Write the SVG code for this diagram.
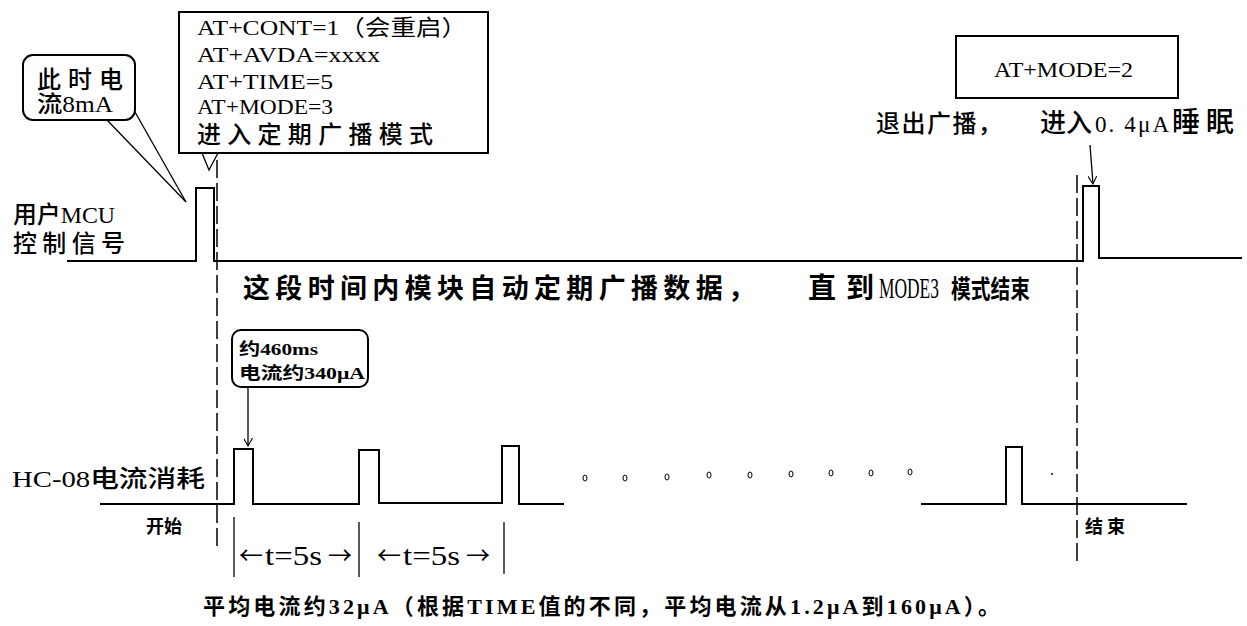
<svg xmlns="http://www.w3.org/2000/svg" width="1247" height="626" viewBox="0 0 1247 626">
<defs>
<style>
.ln{fill:none;stroke:#000;stroke-width:2}
.thin{fill:none;stroke:#000;stroke-width:1.3}
.dash{fill:none;stroke:#000;stroke-width:1.5;stroke-dasharray:18 5}
.box{fill:#fff;stroke:#000;stroke-width:2}
.t{font-family:"Liberation Serif","Noto Sans CJK SC",serif;fill:#000}
.c{font-family:"Liberation Serif","Noto Sans CJK SC",serif;fill:#000;font-weight:bold}
.cj{font-family:"Noto Sans CJK SC",sans-serif;fill:#000}
.dot{fill:none;stroke:#000;stroke-width:1}
</style>
<marker id="ah" viewBox="0 0 10 10" refX="9" refY="5" markerWidth="9" markerHeight="9" orient="auto" markerUnits="userSpaceOnUse">
<path d="M0,0 L9,5 L0,10" fill="none" stroke="#000" stroke-width="1.2"/>
</marker>
</defs>
<rect width="1247" height="626" fill="#fff"/>

<g id="connectors">
<path class="ln" d="M67,261 H196 V188 H214 V261 H1083 V186 H1099 V258 H1242"/>
<path class="ln" d="M100,504 H234 V449 H253 V504 H359 V450 H379 V503 H502 V446 H519 V504 H564"/>
<path class="ln" d="M921,504 H1006 V447 H1022 V504 H1187"/>
<line class="dash" x1="217" y1="160" x2="217" y2="550"/>
<line class="dash" x1="1077" y1="175" x2="1077" y2="562"/>
<line class="thin" x1="107" y1="120" x2="186" y2="202"/>
<line class="thin" x1="135" y1="112" x2="186" y2="202"/>
<polyline class="thin" points="202,153 209,170 218,153"/>
<line class="thin" x1="248" y1="387" x2="248" y2="446" marker-end="url(#ah)"/>
<line class="thin" x1="1090" y1="145" x2="1093" y2="184" marker-end="url(#ah)"/>
<line class="thin" x1="234" y1="517" x2="234" y2="577"/>
<line class="thin" x1="359" y1="522" x2="359" y2="577"/>
<line class="thin" x1="504" y1="522" x2="504" y2="574"/>
</g>

<g id="cmd-box">
<rect class="box" x="179" y="12" width="309" height="141"/>
<text class="t" font-size="22" x="197" y="35" textLength="270" lengthAdjust="spacingAndGlyphs">AT+CONT=1（会重启）</text>
<text class="t" font-size="22" x="197" y="62" textLength="183" lengthAdjust="spacingAndGlyphs">AT+AVDA=xxxx</text>
<text class="t" font-size="22" x="197" y="89" textLength="136" lengthAdjust="spacingAndGlyphs">AT+TIME=5</text>
<text class="t" font-size="22" x="197" y="114" textLength="136" lengthAdjust="spacingAndGlyphs">AT+MODE=3</text>
<text class="t" font-size="24" font-weight="500" x="197" y="143" textLength="236" lengthAdjust="spacing">进入定期广播模式</text>
</g>

<g id="current-bubble">
<rect class="box" x="23" y="55" width="112" height="65" rx="10"/>
<text class="t" font-size="24" font-weight="500" x="37" y="88" textLength="86" lengthAdjust="spacing">此时电</text>
<text class="t" font-size="23" font-weight="500" x="37" y="112" textLength="76" lengthAdjust="spacingAndGlyphs">流8mA</text>
</g>

<g id="mcu-label">
<text class="t" font-size="24" font-weight="500" x="13" y="223" textLength="102" lengthAdjust="spacingAndGlyphs">用户MCU</text>
<text class="t" font-size="24" font-weight="500" x="13" y="252" textLength="112" lengthAdjust="spacing">控制信号</text>
</g>

<g id="mode2-box">
<rect class="box" x="956" y="36" width="222" height="62"/>
<text class="t" font-size="22" x="994" y="77" textLength="139" lengthAdjust="spacingAndGlyphs">AT+MODE=2</text>
</g>

<g id="exit-label">
<text class="t" font-size="24" font-weight="500" x="876" y="132" textLength="126" lengthAdjust="spacing">退出广播，</text>
<text class="t" font-size="26" font-weight="500" x="1040" y="132" textLength="52" lengthAdjust="spacing">进入</text>
<text class="t" font-size="23" x="1095" y="132" textLength="74" lengthAdjust="spacing">0. 4μA</text>
<text class="t" font-size="28" font-weight="500" x="1172" y="132" textLength="62" lengthAdjust="spacing">睡眠</text>
</g>

<g id="middle-label">
<text class="c" font-size="27" x="243" y="298" textLength="512" lengthAdjust="spacing">这段时间内模块自动定期广播数据，</text>
<text class="c" font-size="28" x="808" y="298" textLength="66" lengthAdjust="spacing">直到</text>
<text class="t" font-size="29" transform="translate(879,298) scale(0.6,1)">MODE3</text>
<text class="c" font-size="25" transform="translate(951,298) scale(0.79,1)">模式结束</text>
</g>

<g id="pulse-bubble">
<rect class="box" x="232" y="330" width="136" height="57" rx="9"/>
<text class="c" font-size="17" x="239" y="355" textLength="79" lengthAdjust="spacingAndGlyphs">约460ms</text>
<text class="c" font-size="17" x="239" y="379" textLength="126" lengthAdjust="spacingAndGlyphs">电流约340μA</text>
</g>

<g id="hc08-label">
<text class="t" font-size="24" font-weight="500" x="12" y="487" textLength="193" lengthAdjust="spacingAndGlyphs">HC-08电流消耗</text>
</g>

<g id="start-label"><text class="c" font-size="18" x="146" y="533" textLength="36" lengthAdjust="spacing">开始</text></g>
<g id="end-label"><text class="c" font-size="18" x="1085" y="533" textLength="40" lengthAdjust="spacing">结束</text></g>

<g id="period-labels">
<text class="cj" font-size="24" x="239" y="564">←</text>
<text class="t" font-size="28" x="265" y="565" textLength="57" lengthAdjust="spacingAndGlyphs">t=5s</text>
<text class="cj" font-size="24" x="328" y="564">→</text>
<text class="cj" font-size="24" x="377" y="564">←</text>
<text class="t" font-size="28" x="403" y="565" textLength="57" lengthAdjust="spacingAndGlyphs">t=5s</text>
<text class="cj" font-size="24" x="466" y="564">→</text>
</g>

<g id="ellipsis">
<ellipse class="dot" cx="585" cy="478" rx="2" ry="3"/>
<ellipse class="dot" cx="625" cy="478" rx="2" ry="3"/>
<ellipse class="dot" cx="667" cy="477" rx="2" ry="3"/>
<ellipse class="dot" cx="709" cy="475" rx="2" ry="3"/>
<ellipse class="dot" cx="750" cy="475" rx="2" ry="3"/>
<ellipse class="dot" cx="791" cy="474" rx="2" ry="3"/>
<ellipse class="dot" cx="831" cy="473" rx="2" ry="3"/>
<ellipse class="dot" cx="871" cy="473" rx="2" ry="3"/>
<ellipse class="dot" cx="910" cy="472" rx="2" ry="3"/>
<circle cx="1052" cy="474" r="1" fill="#000"/>
</g>

<g id="summary">
<text class="c" font-size="22" x="203" y="614" textLength="797" lengthAdjust="spacing">平均电流约32μA（根据TIME值的不同，平均电流从1.2μA到160μA）。</text>
</g>
</svg>
